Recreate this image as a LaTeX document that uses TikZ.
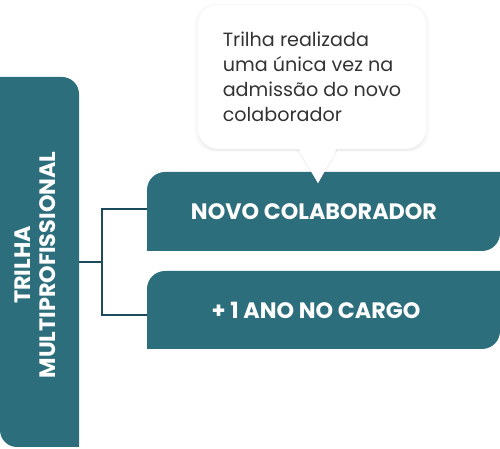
\documentclass[tikz,border=0pt]{standalone}
\usepackage{fontspec}
\setmainfont{Poppins}
\usetikzlibrary{shadows}
\definecolor{tealbox}{HTML}{2C6E7C}
\definecolor{tealline}{HTML}{1B4B5A}
\definecolor{calltext}{HTML}{333333}
\tikzstyle{boxlabel} = [text=white, font=\fontsize{12.7}{14.2}\selectfont\bfseries, align=center]
\tikzstyle{link} = [draw=tealline, line width=1.6pt]
\tikzstyle{callout} = [fill=white,
  drop shadow={opacity=0.06, shadow xshift=0pt, shadow yshift=-0.5pt, shadow scale=1.025},
  drop shadow={opacity=0.10, shadow xshift=0pt, shadow yshift=-1pt}]

\begin{document}
\begin{tikzpicture}[x=0.02cm, y=0.02cm]
\useasboundingbox (0,0) rectangle (500,449);

%% left column
\fill[tealbox] (0,372) -- (62,372) arc[start angle=90, end angle=0, radius=17] -- (79,2) -- (17,2) arc[start angle=270, end angle=180, radius=17] -- cycle;
\node[boxlabel, rotate=90] at (35,184) (trilha) {TRILHA\\MULTIPROFISSIONAL};

%% the two steps
\fill[tealbox] (147,198) -- (147,259) arc[start angle=180, end angle=90, radius=18] -- (500,277) -- (500,216) arc[start angle=0, end angle=-90, radius=18] -- cycle;
\node[boxlabel] at (314,237) (novo) {NOVO COLABORADOR};

\fill[tealbox] (147,100) -- (147,160) arc[start angle=180, end angle=90, radius=18] -- (500,178) -- (500,118) arc[start angle=0, end angle=-90, radius=18] -- cycle;
\node[boxlabel] at (316,139) (ano) {+ 1 ANO NO CARGO};

%% connectors
\coordinate (trilhaE) at (79,187);
\coordinate (novoW) at (147,240);
\coordinate (anoW) at (147,134);
\path (trilhaE) -- ++(23,0) coordinate (fork);
\draw[link] (trilhaE) -- (fork);
\draw[link] (novoW) -| (fork) |- (anoW);

%% callout
\fill[callout] (297,301) -- (318,266) -- (338,301) -- cycle;
\node[callout, rounded corners=0.4cm, minimum width=4.56cm, minimum height=2.88cm, inner sep=0pt] at (312,372) (bubble) {};
\fill[white] (297,304) -- (318,266) -- (338,304) -- cycle;
\node[text=calltext, align=left, font=\fontsize{10.9}{14.2}\selectfont] at (bubble.center) (note) {Trilha realizada\\uma única vez na\\admissão do novo\\colaborador};
\end{tikzpicture}
\end{document}
